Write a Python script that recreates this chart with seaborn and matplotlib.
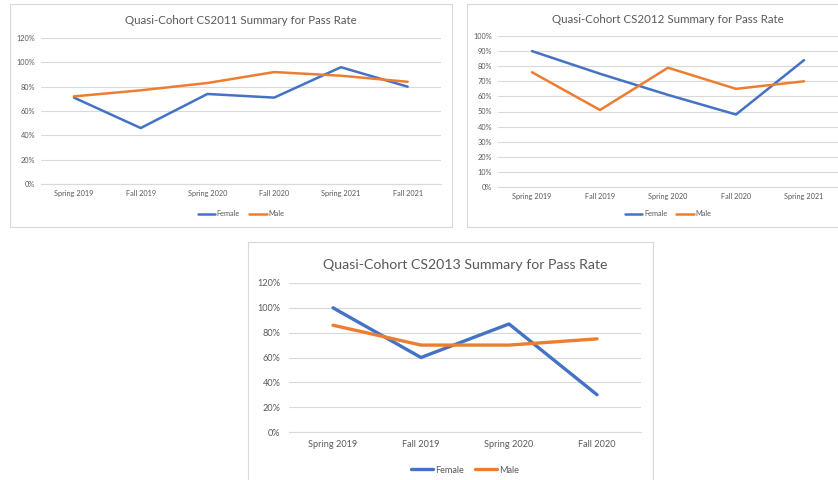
import matplotlib
matplotlib.use("Agg")
import matplotlib.pyplot as plt
from matplotlib.patches import Rectangle
from matplotlib.ticker import PercentFormatter
import pandas as pd
import seaborn as sns

# pass rates (percent)
terms_2011 = ["Spring 2019", "Fall 2019", "Spring 2020", "Fall 2020", "Spring 2021", "Fall 2021"]
female_2011 = [71, 46, 74, 71, 96, 80]
male_2011 = [72, 77, 83, 92, 89, 84]

terms_2012 = ["Spring 2019", "Fall 2019", "Spring 2020", "Fall 2020", "Spring 2021"]
female_2012 = [90, 75, 61, 48, 84]
male_2012 = [76, 51, 79, 65, 70]

terms_2013 = ["Spring 2019", "Fall 2019", "Spring 2020", "Fall 2020"]
female_2013 = [100, 60, 87, 30]
male_2013 = [86, 70, 70, 75]

BLUE = "#4472C4"
ORANGE = "#ED7D31"
GRID = "#D9D9D9"
TEXT = "#595959"

sns.set_style("white")
plt.rcParams["font.family"] = ["Lato", "DejaVu Sans"]

W, H = 838, 480
fig = plt.figure(figsize=(W / 100, H / 100), dpi=100)


# pixel box -> figure fraction
def px_axes(x0, y0, x1, y1):
    return fig.add_axes([x0 / W, 1 - y1 / H, (x1 - x0) / W, (y1 - y0) / H])


def frame(x0, y0, x1, y1):
    fig.patches.append(Rectangle((x0 / W, 1 - y1 / H), (x1 - x0) / W, (y1 - y0) / H,
                                 transform=fig.transFigure, fill=False,
                                 edgecolor=GRID, linewidth=0.8))


def make_df(terms, female, male):
    rows = [(t, "Female", v / 100) for t, v in zip(terms, female)]
    rows += [(t, "Male", v / 100) for t, v in zip(terms, male)]
    return pd.DataFrame(rows, columns=["term", "gender", "rate"])


def draw(ax, df, title, ymax, ystep, fs_title, fs_tick, lw, title_y, leg_y, pad=4):
    sns.lineplot(data=df, x="term", y="rate", hue="gender", sort=False,
                 palette={"Female": BLUE, "Male": ORANGE}, linewidth=lw, ax=ax)
    n = df["term"].nunique()
    ax.set_xlim(-0.5, n - 0.5)
    ax.set_ylim(0, ymax)
    ax.set_yticks([i * ystep for i in range(int(round(ymax / ystep)) + 1)])
    ax.yaxis.set_major_formatter(PercentFormatter(1.0, decimals=0))
    ax.grid(axis="y", color=GRID, linewidth=0.8)
    ax.set_axisbelow(True)
    for s in ["top", "right", "left"]:
        ax.spines[s].set_visible(False)
    ax.spines["bottom"].set_color(GRID)
    ax.spines["bottom"].set_linewidth(0.8)
    ax.tick_params(length=0, labelsize=fs_tick, colors=TEXT, pad=pad)
    ax.set_xlabel("")
    ax.set_ylabel("")
    ax.set_title(title, fontsize=fs_title, color=TEXT, y=title_y)
    ax.legend(loc="upper center", bbox_to_anchor=(0.5, leg_y), ncol=2, frameon=False,
              fontsize=fs_tick, handlelength=2.4, handletextpad=0.2, columnspacing=1.2,
              labelcolor=TEXT)


frame(10, 4, 452, 227)
ax1 = px_axes(40.6, 38, 441, 184)
draw(ax1, make_df(terms_2011, female_2011, male_2011),
     "Quasi-Cohort CS2011 Summary for Pass Rate", 1.2, 0.2, 8.3, 5.3, 1.8, 1.04, -0.135)

frame(467, 4, 845, 227)
ax2 = px_axes(498, 36, 838, 187)
draw(ax2, make_df(terms_2012, female_2012, male_2012),
     "Quasi-Cohort CS2012 Summary for Pass Rate", 1.0, 0.1, 8.3, 5.3, 1.8, 1.03, -0.11)

frame(248, 242, 653, 485)
ax3 = px_axes(289, 283, 641, 432)
draw(ax3, make_df(terms_2013, female_2013, male_2013),
     "Quasi-Cohort CS2013 Summary for Pass Rate", 1.2, 0.2, 10.2, 6.6, 2.4, 1.04, -0.17, pad=6)

fig.savefig("out.png", dpi=100)
